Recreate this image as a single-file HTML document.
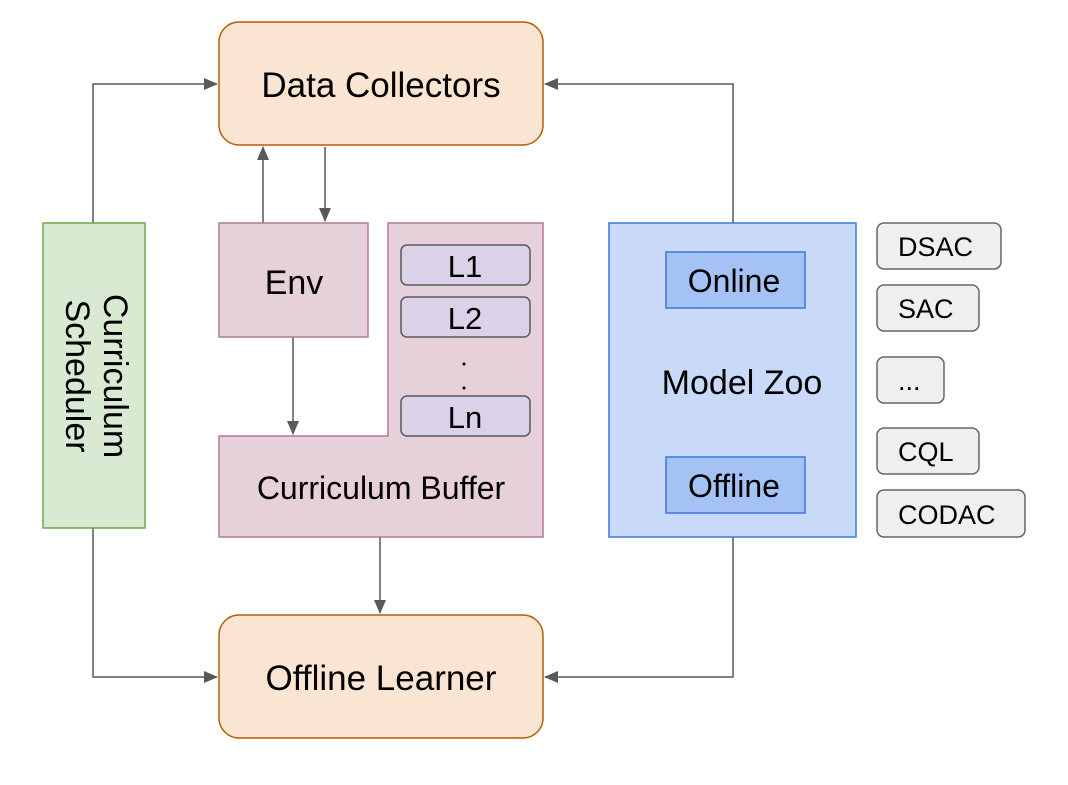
<!DOCTYPE html>
<html><head><style>body{margin:0;background:#fff}</style></head><body>
<svg width="1068" height="780" xmlns="http://www.w3.org/2000/svg" font-family="Liberation Sans, sans-serif">
<defs><marker id="a" markerWidth="14" markerHeight="12" refX="13" refY="6" orient="auto" markerUnits="userSpaceOnUse"><path d="M0,0 L14,6 L0,12 z" fill="#595959"/></marker></defs>
<g stroke="#595959" stroke-width="1.5" fill="none">
<path d="M93,223 V84 H217" marker-end="url(#a)"/>
<path d="M93,528 V677 H217" marker-end="url(#a)"/>
<path d="M733,223 V84 H545" marker-end="url(#a)"/>
<path d="M733,537 V677 H545" marker-end="url(#a)"/>
<path d="M263,223 V147" marker-end="url(#a)"/>
<path d="M325,147 V221" marker-end="url(#a)"/>
<path d="M293,337 V434" marker-end="url(#a)"/>
<path d="M380,537 V613" marker-end="url(#a)"/>
</g>
<rect x="219" y="22" width="324" height="123" rx="20" fill="#f9e5d1" stroke="#b45f06" stroke-width="1.5"/>
<text x="381" y="97" font-size="35" text-anchor="middle">Data Collectors</text>
<rect x="219" y="615" width="324" height="123" rx="20" fill="#f9e5d1" stroke="#b45f06" stroke-width="1.5"/>
<text x="381" y="690" font-size="35" text-anchor="middle">Offline Learner</text>
<rect x="43" y="223" width="102" height="305" fill="#d9ead3" stroke="#6aa84f" stroke-width="1.5"/>
<g transform="translate(94,376) rotate(90)" font-size="34" text-anchor="middle"><text x="0" y="-10">Curriculum</text><text x="0" y="28">Scheduler</text></g>
<rect x="219" y="223" width="149" height="114" fill="#e6d1da" stroke="#b3779b" stroke-width="1.5"/>
<text x="294" y="294" font-size="34" text-anchor="middle">Env</text>
<path d="M388,223 H543 V537 H219 V436 H388 Z" fill="#e6d1da" stroke="#b3779b" stroke-width="1.5"/>
<text x="381" y="499" font-size="32" text-anchor="middle">Curriculum Buffer</text>
<g fill="#d9d2e9" stroke="#595959" stroke-width="1.5">
<rect x="401" y="245" width="129" height="40" rx="6"/>
<rect x="401" y="297" width="129" height="40" rx="6"/>
<rect x="401" y="396" width="129" height="40" rx="6"/>
</g>
<g font-size="31" text-anchor="middle"><text x="465" y="277">L1</text><text x="465" y="329">L2</text><text x="465" y="428">Ln</text></g>
<circle cx="464" cy="364" r="1.5" fill="#000"/><circle cx="464" cy="388" r="1.5" fill="#000"/>
<rect x="609" y="223" width="247" height="314" fill="#c9daf8" stroke="#3c78d8" stroke-width="1.5"/>
<rect x="666" y="252" width="139" height="56" fill="#a4c2f4" stroke="#3c78d8" stroke-width="1.5"/>
<rect x="666" y="457" width="139" height="56" fill="#a4c2f4" stroke="#3c78d8" stroke-width="1.5"/>
<g font-size="32" text-anchor="middle"><text x="734" y="292">Online</text><text x="734" y="497">Offline</text><text x="742" y="394" font-size="34">Model Zoo</text></g>
<g fill="#efefef" stroke="#666" stroke-width="1.5">
<rect x="877" y="223" width="124" height="46" rx="7"/>
<rect x="877" y="285" width="102" height="46" rx="7"/>
<rect x="877" y="357" width="67" height="46" rx="7"/>
<rect x="877" y="428" width="102" height="46" rx="7"/>
<rect x="877" y="490" width="148" height="47" rx="7"/>
</g>
<g font-size="27"><text x="898" y="256">DSAC</text><text x="898" y="318">SAC</text><text x="898" y="390">...</text><text x="898" y="461">CQL</text><text x="898" y="524">CODAC</text></g>
</svg>
</body></html>
